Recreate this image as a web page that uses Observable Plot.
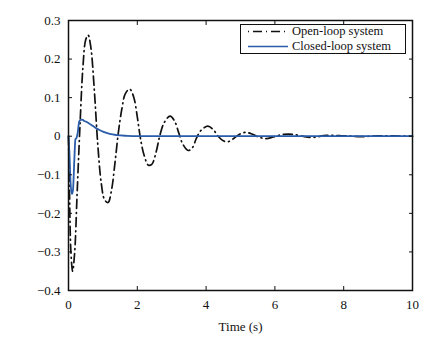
<!DOCTYPE html>
<html><head><meta charset="utf-8">
<script src="https://cdn.jsdelivr.net/npm/d3@7"></script>
<script src="https://cdn.jsdelivr.net/npm/@observablehq/plot@0.6"></script>
<style>
body{margin:0;background:#fff;font-family:"Liberation Serif",serif;}
#wrap{position:relative;width:432px;height:340px;}
#chart svg text{font-family:"Liberation Serif",serif;}
#legend{position:absolute;left:240px;top:24px;width:164px;height:28px;border:1.5px solid #111;background:#fff;font-size:12.5px;color:#111;font-family:"Liberation Serif",serif;}
#legend .row{position:absolute;left:0;height:13px;line-height:13px;}
#legend svg{position:absolute;left:7px;}
#legend span{position:absolute;left:51px;white-space:nowrap;}
</style></head><body>
<div id="wrap"><div id="chart"></div>
<div id="legend">
 <div class="row" style="top:0px"><svg width="40" height="13"><line x1="0" y1="6.5" x2="40" y2="6.5" stroke="#111" stroke-width="1.5" stroke-dasharray="1,4,9,4"/></svg><span id="l0"></span></div>
 <div class="row" style="top:14.5px"><svg width="40" height="13"><line x1="0" y1="6.5" x2="40" y2="6.5" stroke="#2a5caa" stroke-width="1.6"/></svg><span id="l1"></span></div>
</div></div>
<script>
const seriesNames = ["Open-loop system", "Closed-loop system"];
const xTicks = [0, 2, 4, 6, 8, 10];
const yTicks = [0.3, 0.2, 0.1, 0, -0.1, -0.2, -0.3, -0.4];
const xLabel = "Time (s)";

const openT = [0,0.03,0.07,0.12,0.18,0.25,0.33,0.42,0.5,0.57,0.65,0.75,0.85,0.95,1.05,1.15,1.25,1.35,1.45,1.55,1.65,1.78,1.9,2.0,2.1,2.2,2.32,2.42,2.55,2.65,2.78,2.95,3.08,3.2,3.32,3.48,3.6,3.72,3.85,4.05,4.2,4.35,4.5,4.65,4.8,4.95,5.15,5.35,5.55,5.75,5.95,6.2,6.5,6.8,7.1,7.5,8,8.5,9,10];
const openY = [0,-0.15,-0.3,-0.35,-0.3,-0.15,0.02,0.18,0.25,0.262,0.23,0.12,-0.02,-0.12,-0.165,-0.172,-0.14,-0.07,0.01,0.07,0.11,0.122,0.1,0.05,-0.01,-0.05,-0.075,-0.073,-0.04,0.0,0.035,0.052,0.04,0.01,-0.02,-0.037,-0.03,-0.005,0.015,0.026,0.018,0,-0.012,-0.014,-0.006,0.004,0.01,0.005,-0.003,-0.006,-0.002,0.004,0.005,0,-0.003,0.002,0.001,-0.001,0.001,0];
const closedT = [0,0.03,0.06,0.1,0.13,0.17,0.2,0.23,0.27,0.31,0.35,0.4,0.45,0.5,0.6,0.7,0.8,0.9,1.0,1.2,1.4,1.7,2.0,3,5,10];
const closedY = [0,-0.05,-0.12,-0.15,-0.14,-0.06,-0.008,-0.005,0.01,0.038,0.042,0.043,0.04,0.038,0.033,0.027,0.021,0.016,0.012,0.006,0.003,0.001,0,0,0,0];

document.getElementById("l0").textContent = seriesNames[0];
document.getElementById("l1").textContent = seriesNames[1];

const openData = openT.map((t,i)=>({t, v: openY[i]}));
const closedData = closedT.map((t,i)=>({t, v: closedY[i]}));
const yFmt = d => d === 0 ? "0" : d3.format(".1f")(d);

const chart = Plot.plot({
  width: 432, height: 340,
  marginLeft: 68, marginRight: 20, marginTop: 20, marginBottom: 50,
  style: {fontFamily: "Liberation Serif", fontSize: "13px", color: "#111", background: "#fff"},
  x: {domain: [0, 10]},
  y: {domain: [-0.4, 0.3]},
  marks: [
    Plot.line(openData, {x: "t", y: "v", stroke: "#111", strokeWidth: 1.7, strokeDasharray: "9,4,1,4", curve: "catmull-rom"}),
    Plot.line(closedData, {x: "t", y: "v", stroke: "#2a5caa", strokeWidth: 1.8, curve: "monotone-x"}),
    Plot.axisX({ticks: xTicks, tickSize: -4, tickPadding: 13, label: xLabel, labelAnchor: "center", labelArrow: "none", labelOffset: 40, fontSize: 13}),
    Plot.axisX({anchor: "top", ticks: xTicks, tickSize: -4, tickFormat: () => "", label: null}),
    Plot.axisY({ticks: yTicks, tickSize: -4, tickPadding: 12, tickFormat: yFmt, label: null, fontSize: 13}),
    Plot.axisY({anchor: "right", ticks: yTicks, tickSize: -4, tickFormat: () => "", label: null}),
    Plot.frame({stroke: "#111", strokeWidth: 1.5})
  ]
});
document.getElementById("chart").appendChild(chart);
</script></body></html>
